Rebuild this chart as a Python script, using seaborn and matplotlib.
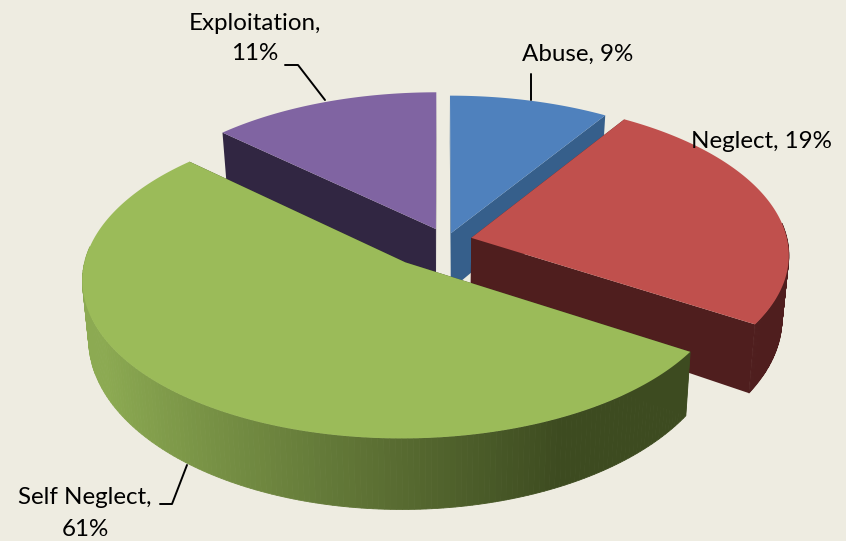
import numpy as np
import seaborn as sns
import matplotlib.pyplot as plt
from matplotlib.colors import to_rgb

# slices as drawn in the picture (the printed labels do not follow them)
names = ['Abuse', 'Neglect', 'Self Neglect', 'Exploitation']
drawn_shares = [9, 25, 53, 13]
shift_x = [0.035, 0.099, -0.108, -0.013]
shift_y = [0.045, 0.014, -0.144, 0.072]
wall_scale = [1, 1.08, 0.97, 1]
tops = ['#4F81BD', '#C0504D', '#9BBB59', '#8064A2']
sides = ['#365F8B', '#4F1E1E', '#3D4B20', '#312642']
side_light = ['#365F8B', '#5A2422', '#8CAA52', '#312642']
bg = '#EEECE1'

sns.set_theme(style='white')
plt.rcParams['font.family'] = ['Lato', 'DejaVu Sans']

cx, cy = 440, 240
a, b, k, depth = 316, 153, 0.103, 57


def project(x, y, z=0):
    f = 1 / (1 + k * y)
    return cx + a * x * f * (1 - 0.018 * z), cy - b * y * f + depth * z * f ** 2


fig = plt.figure(figsize=(8.46, 5.41), dpi=100, facecolor=bg)
ax = fig.add_axes([0, 0, 1, 1])
ax.set_xlim(0, 846)
ax.set_ylim(541, 0)
ax.axis('off')

fracs = np.array(drawn_shares) / sum(drawn_shares) * 2 * np.pi
ends = np.cumsum(fracs)
starts = ends - fracs


def quad(x1, y1, x2, y2, z, color, zo, lw=0):
    p = [project(x1, y1), project(x2, y2), project(x2, y2, z), project(x1, y1, z)]
    ax.fill(*zip(*p), color=color, lw=lw, zorder=zo)


for zo, i in enumerate([3, 0, 1, 2]):
    t = np.linspace(starts[i], ends[i], 200)
    ox, oy = shift_x[i], shift_y[i]
    xs, ys = ox + np.sin(t), oy + np.cos(t)
    base = zo * 10
    z = wall_scale[i]
    # cut faces
    quad(ox, oy, xs[0], ys[0], z, sides[i], base)
    quad(ox, oy, xs[-1], ys[-1], z, sides[i], base)
    # outer wall, shaded by horizontal position
    light, dark = np.array(to_rgb(side_light[i])), np.array(to_rgb(sides[i]))
    for j in range(len(xs) - 1):
        if np.cos(t[j]) > 0.1:
            continue
        s = np.clip((xs[j] + 1) / 1.35, 0, 1)
        quad(xs[j], ys[j], xs[j + 1], ys[j + 1], z, tuple(light + (dark - light) * s), base + 1, lw=0.6)
    px, py = project(np.r_[ox, xs], np.r_[oy, ys])
    ax.fill(px, py, color=tops[i], lw=0, zorder=base + 2)

ax.plot([285, 298, 325], [65, 65, 100], color='black', lw=1.4, zorder=50)
ax.plot([160, 172, 187], [504, 504, 465], color='black', lw=1.4, zorder=50)
ax.plot([531, 531], [74, 100], color='black', lw=1.4, zorder=50)

fs = 17.4
ax.text(578, 54, 'Abuse, 9%', ha='center', va='center', fontsize=fs, color='black', zorder=60)
ax.text(761, 142, 'Neglect, 19%', ha='center', va='center', fontsize=fs, color='black', zorder=60)
ax.text(85, 497, 'Self Neglect,', ha='center', va='center', fontsize=fs, color='black', zorder=60)
ax.text(85, 529, '61%', ha='center', va='center', fontsize=fs, color='black', zorder=60)
ax.text(255, 23, 'Exploitation,', ha='center', va='center', fontsize=fs, color='black', zorder=60)
ax.text(255, 54, '11%', ha='center', va='center', fontsize=fs, color='black', zorder=60)

fig.savefig('out.png', dpi=100, facecolor=bg)
